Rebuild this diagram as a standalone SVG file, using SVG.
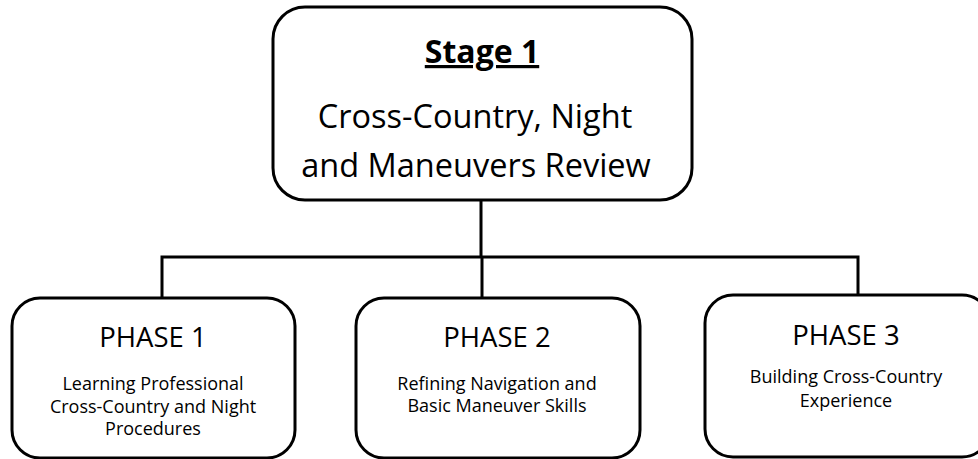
<svg xmlns="http://www.w3.org/2000/svg" width="978" height="459" viewBox="0 0 978 459">
<style>
.box{fill:#fff;stroke:#000;stroke-width:3}
.con{fill:none;stroke:#000;stroke-width:3}
text{font-family:"Open Sans","Liberation Sans",sans-serif;fill:#000;text-anchor:middle}
.title{font-size:32px;font-weight:bold;text-decoration:underline}
.main{font-size:32.5px}
.ph{font-size:27.5px}
.sub{font-size:18px}
</style>
<rect width="978" height="459" fill="#fff"/>
<g id="connectors">
<path class="con" d="M481 200 V257 M162 298 V257 H858 V295 M482 257 V298"/>
</g>
<g id="stage1">
<rect class="box" x="273" y="7" width="419" height="193" rx="32"/>
<text class="title" x="482" y="63">Stage 1</text>
<text class="main" x="475" y="128">Cross-Country, Night</text>
<text class="main" x="476" y="177">and Maneuvers Review</text>
</g>
<g id="phase1">
<rect class="box" x="12" y="298" width="283" height="160" rx="28"/>
<text class="ph" x="153" y="347">PHASE 1</text>
<text class="sub" x="153" y="390">Learning Professional</text>
<text class="sub" x="153" y="413">Cross-Country and Night</text>
<text class="sub" x="153" y="435">Procedures</text>
</g>
<g id="phase2">
<rect class="box" x="356" y="298" width="284" height="160" rx="28"/>
<text class="ph" x="497" y="347">PHASE 2</text>
<text class="sub" x="497" y="390">Refining Navigation and</text>
<text class="sub" x="497" y="412">Basic Maneuver Skills</text>
</g>
<g id="phase3">
<rect class="box" x="705" y="295" width="285" height="162" rx="28"/>
<text class="ph" x="846" y="345">PHASE 3</text>
<text class="sub" x="846" y="383">Building Cross-Country</text>
<text class="sub" x="846" y="407">Experience</text>
</g>
</svg>
